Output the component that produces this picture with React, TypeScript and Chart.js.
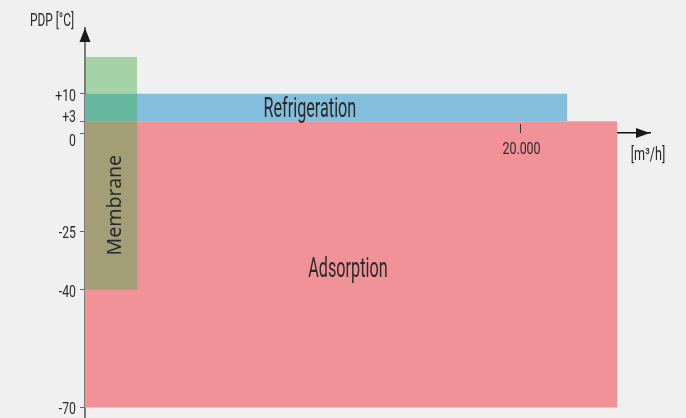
import React, { useEffect, useRef } from 'react';
import { Chart, registerables } from 'chart.js';

Chart.register(...registerables);

// ---- data ----
const regions = ['Adsorption', 'Refrigeration', 'Membrane'];
const flowMax = [24500, 22200, 2400]; // m³/h
const pdpTop = [3, 10, 19.4]; // °C
const pdpBottom = [-70, 3, -40]; // °C
const yTickValues = [10, 3, 0, -25, -40, -70];
const yTickLabels = ['+10', '+3', '0', '-25', '-40', '-70'];
const xTickValues = [20000];
const xTickLabels = ['20.000'];
const yAxisTitle = 'PDP [°C]';
const xAxisTitle = '[m³/h]';
// label anchors (data units)
const labelFlow = [12100, 10350, 1350];
const labelPdp = [-34.2, 6.5, -18.4];

// ---- style ----
const regionColors = ['#f09297', '#84bedd', 'rgba(63,175,73,0.43)'];
const regionOrder = [2, 1, 0];
const TEXT = '#2a2a2a';
const COND_FONT = 'Roboto';
const yLabelNudge: Record<string, number> = { '+3': -5, '0': 6.5 };

function condText(
  ctx: CanvasRenderingContext2D,
  text: string,
  x: number,
  capMidY: number,
  size: number,
  sx: number,
  align: CanvasTextAlign
) {
  ctx.save();
  ctx.font = `${size}px ${COND_FONT}`;
  ctx.fillStyle = TEXT;
  ctx.textAlign = align;
  ctx.textBaseline = 'alphabetic';
  ctx.translate(x, capMidY + (size * 0.711) / 2);
  ctx.scale(sx, 1);
  ctx.fillText(text, 0, 0);
  ctx.restore();
}

const decorPlugin = {
  id: 'decor',
  afterDraw(chart: any) {
    const ctx: CanvasRenderingContext2D = chart.ctx;
    const xs = chart.scales.x;
    const ys = chart.scales.y;
    const area = chart.chartArea;
    const zeroY = ys.getPixelForValue(0);
    const left = area.left;

    // region labels
    regions.forEach((name, i) => {
      const px = xs.getPixelForValue(labelFlow[i]);
      const py = ys.getPixelForValue(labelPdp[i]);
      if (name === 'Membrane') {
        ctx.save();
        ctx.translate(px, py);
        ctx.rotate(-Math.PI / 2);
        ctx.font = '19.5px "Noto Sans"';
        ctx.fillStyle = TEXT;
        ctx.textAlign = 'center';
        ctx.textBaseline = 'alphabetic';
        ctx.fillText(name, 0, (19.5 * 0.714) / 2);
        ctx.restore();
      } else {
        condText(ctx, name, px, py, 27, 0.6, 'center');
      }
    });

    // y arrow
    ctx.save();
    ctx.fillStyle = '#1a1a1a';
    ctx.beginPath();
    ctx.moveTo(left, area.top);
    ctx.lineTo(left - 5.5, area.top + 14);
    ctx.lineTo(left + 5.5, area.top + 14);
    ctx.closePath();
    ctx.fill();
    // x arrow
    ctx.beginPath();
    ctx.moveTo(area.right, zeroY);
    ctx.lineTo(area.right - 14, zeroY - 5);
    ctx.lineTo(area.right - 14, zeroY + 5);
    ctx.closePath();
    ctx.fill();
    ctx.restore();

    // x ticks (marks above the axis) + labels
    xs.ticks.forEach((t: any) => {
      const px = Math.round(xs.getPixelForValue(t.value)) + 0.5;
      ctx.save();
      ctx.strokeStyle = '#333';
      ctx.lineWidth = 1;
      ctx.beginPath();
      ctx.moveTo(px, zeroY - 9);
      ctx.lineTo(px, zeroY);
      ctx.stroke();
      ctx.restore();
      condText(ctx, String(t.label), px + 1, zeroY + 15, 17, 0.73, 'center');
    });

    // y labels
    ys.ticks.forEach((t: any) => {
      const py = ys.getPixelForValue(t.value);
      const lbl = String(t.label);
      const nudge = yLabelNudge[lbl] ?? 0.8;
      condText(ctx, lbl, left - 9, py + nudge, 17, 0.72, 'right');
    });

    // axis titles
    condText(ctx, yAxisTitle, left - 33, 19.4, 17.5, 0.68, 'center');
    condText(ctx, xAxisTitle, area.right - 2, zeroY + 21, 17.5, 0.72, 'center');
  },
};

export default function App() {
  const ref = useRef<HTMLCanvasElement | null>(null);

  useEffect(() => {
    if (!ref.current) return;
    const chart = new Chart(ref.current, {
      type: 'line',
      data: {
        datasets: regions.map((name, i) => ({
          label: name,
          data: [
            { x: 0, y: pdpTop[i] },
            { x: flowMax[i], y: pdpTop[i] },
          ],
          fill: { value: pdpBottom[i] },
          backgroundColor: regionColors[i],
          borderWidth: 0,
          pointRadius: 0,
          order: regionOrder[i],
        })),
      },
      options: {
        animation: false,
        responsive: false,
        events: [],
        layout: { padding: { left: 0, right: 36, top: 28, bottom: 0 } },
        plugins: { legend: { display: false }, tooltip: { enabled: false } },
        scales: {
          x: {
            type: 'linear',
            min: 0,
            max: 26000,
            position: { y: 0 },
            z: 1,
            grid: { display: false },
            border: { display: true, color: '#111', width: 1.5 },
            ticks: {
              display: false,
              callback: (v: any) => {
                const i = xTickValues.indexOf(Number(v));
                return i >= 0 ? xTickLabels[i] : '';
              },
            },
            afterBuildTicks: (s: any) => {
              s.ticks = xTickValues.map((v) => ({ value: v }));
            },
          },
          y: {
            type: 'linear',
            min: -72.7,
            max: 26.8,
            position: 'left',
            z: 1,
            grid: {
              display: true,
              drawOnChartArea: false,
              drawTicks: true,
              tickLength: 5,
              color: '#666',
              lineWidth: 1,
            },
            border: { display: true, color: '#7a7a7a', width: 2 },
            ticks: {
              display: false,
              autoSkip: false,
              callback: (v: any) => {
                const i = yTickValues.indexOf(Number(v));
                return i >= 0 ? yTickLabels[i] : '';
              },
            },
            afterBuildTicks: (s: any) => {
              s.ticks = yTickValues.map((v) => ({ value: v }));
            },
            afterFit: (s: any) => {
              s.width = 85;
            },
          },
        },
      } as any,
      plugins: [decorPlugin],
    });
    return () => chart.destroy();
  }, []);

  return (
    <div
      style={{
        position: 'fixed',
        left: 0,
        top: 0,
        width: 686,
        height: 418,
        background: '#f0f0f0',
      }}
    >
      <canvas ref={ref} width={686} height={418} style={{ display: 'block' }} />
    </div>
  );
}
